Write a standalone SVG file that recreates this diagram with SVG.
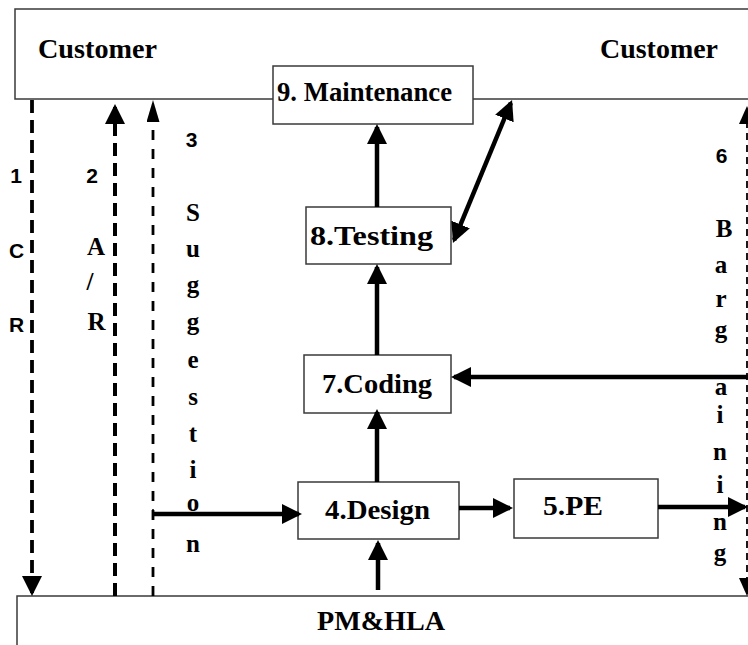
<svg xmlns="http://www.w3.org/2000/svg" width="748" height="645" viewBox="0 0 748 645">
<style>
  .box { fill: #fff; stroke: #3a3a3a; stroke-width: 1.5; }
  .lbl { font-family: "Liberation Serif", "Times New Roman", serif; font-weight: bold; font-size: 28px; fill: #000; }
  .vl { font-family: "Liberation Serif", "Times New Roman", serif; font-weight: bold; font-size: 25px; fill: #000; text-anchor: middle; }
  .num { font-family: "Liberation Sans", Arial, sans-serif; font-weight: bold; font-size: 21px; fill: #000; text-anchor: middle; }
  .solid { fill: none; stroke: #000; stroke-width: 4.5; }
  .dash { fill: none; stroke: #000; }
</style>
<defs>
  <marker id="ah" viewBox="0 0 20 20" markerWidth="20" markerHeight="20" markerUnits="userSpaceOnUse" refX="17" refY="10" orient="auto-start-reverse">
    <path d="M0,0 L20,10 L0,20 Z" fill="#000"/>
  </marker>
  <marker id="ahn" viewBox="0 0 22 13" markerWidth="22" markerHeight="13" markerUnits="userSpaceOnUse" refX="19" refY="6.5" orient="auto-start-reverse">
    <path d="M0,0 L22,6.5 L0,13 Z" fill="#000"/>
  </marker>
  <marker id="ahs" viewBox="0 0 18 16" markerWidth="18" markerHeight="16" markerUnits="userSpaceOnUse" refX="15" refY="8" orient="auto-start-reverse">
    <path d="M0,0 L18,8 L0,16 Z" fill="#000"/>
  </marker>
</defs>

<g id="customer">
  <rect class="box" x="15" y="9" width="760" height="90"/>
  <text class="lbl" x="38" y="58" textLength="119" lengthAdjust="spacingAndGlyphs">Customer</text>
  <text class="lbl" x="600" y="58" textLength="118" lengthAdjust="spacingAndGlyphs">Customer</text>
</g>
<g id="pmhla">
  <rect class="box" x="17" y="596" width="760" height="80"/>
  <text class="lbl" x="317" y="630" textLength="128" lengthAdjust="spacingAndGlyphs">PM&amp;HLA</text>
</g>
<g id="maintenance">
  <rect class="box" x="273" y="66" width="200" height="58"/>
  <text class="lbl" x="277" y="101" font-size="27" textLength="175" lengthAdjust="spacingAndGlyphs">9. Maintenance</text>
</g>
<g id="testing">
  <rect class="box" x="306" y="207" width="145" height="57"/>
  <text class="lbl" x="310" y="245" textLength="123" lengthAdjust="spacingAndGlyphs">8.Testing</text>
</g>
<g id="coding">
  <rect class="box" x="304" y="355" width="147" height="58"/>
  <text class="lbl" x="322" y="393" textLength="110" lengthAdjust="spacingAndGlyphs">7.Coding</text>
</g>
<g id="design">
  <rect class="box" x="298" y="482" width="161" height="57"/>
  <text class="lbl" x="325" y="519" textLength="105" lengthAdjust="spacingAndGlyphs">4.Design</text>
</g>
<g id="pe">
  <rect class="box" x="514" y="479" width="144" height="59"/>
  <text class="lbl" x="543" y="515" textLength="60" lengthAdjust="spacingAndGlyphs">5.PE</text>
</g>

<g id="edge-labels">
  <text class="num" x="16" y="183">1</text>
  <text class="num" x="16.5" y="258">C</text>
  <text class="num" x="16.5" y="332">R</text>
  <text class="num" x="92" y="183">2</text>
  <text class="vl" x="96" y="255">A</text>
  <text class="vl" x="90" y="290" font-weight="normal" font-size="21">/</text>
  <text class="vl" x="96.5" y="330">R</text>
  <text class="num" x="191.5" y="147">3</text>
  <text class="vl" x="193" y="221">S</text>
  <text class="vl" x="193" y="257">u</text>
  <text class="vl" x="193" y="293">g</text>
  <text class="vl" x="193" y="330">g</text>
  <text class="vl" x="193" y="368">e</text>
  <text class="vl" x="193" y="405">s</text>
  <text class="vl" x="193" y="442">t</text>
  <text class="vl" x="193" y="478">i</text>
  <text class="vl" x="193" y="511">o</text>
  <text class="vl" x="193" y="552">n</text>
  <text class="num" x="721.5" y="163">6</text>
  <text class="vl" x="724" y="237">B</text>
  <text class="vl" x="721" y="273">a</text>
  <text class="vl" x="721" y="307">r</text>
  <text class="vl" x="721" y="338">g</text>
  <text class="vl" x="721" y="395">a</text>
  <text class="vl" x="720" y="423">i</text>
  <text class="vl" x="720" y="460">n</text>
  <text class="vl" x="720" y="493">i</text>
  <text class="vl" x="720" y="530">n</text>
  <text class="vl" x="720" y="561">g</text>
</g>

<g id="connectors">
  <path class="dash" d="M32,100 V593" stroke-width="3.8" stroke-dasharray="13 7" marker-end="url(#ah)"/>
  <path class="dash" d="M115,596 V107" stroke-width="4" stroke-dasharray="13 7" marker-end="url(#ah)"/>
  <path class="dash" d="M153,596 V103" stroke-width="2.8" stroke-dasharray="10 9" marker-end="url(#ahn)"/>
  <path class="dash" d="M747,109 V593" stroke="#333" stroke-width="1.8" stroke-dasharray="7 5" marker-start="url(#ahs)" marker-end="url(#ahs)"/>
  <path d="M153,509 V519" stroke="#000" stroke-width="1.5"/>
  <path class="solid" d="M153,514 H299" marker-end="url(#ah)"/>
  <path class="solid" d="M377,482 V412" stroke-width="4" marker-end="url(#ah)"/>
  <path class="solid" d="M377,355 V267" stroke-width="4" marker-end="url(#ah)"/>
  <path class="solid" d="M377,207 V127" stroke-width="4" marker-end="url(#ah)"/>
  <path class="solid" d="M378,590 V543" stroke-width="4" marker-end="url(#ah)"/>
  <path class="solid" d="M459,508 H510" marker-end="url(#ah)"/>
  <path class="solid" d="M658,507 H745" marker-end="url(#ah)"/>
  <path class="solid" d="M748,377 H454" marker-end="url(#ah)"/>
  <path class="solid" d="M510.9,102.8 L454.1,240.2" stroke-width="3" marker-start="url(#ah)" marker-end="url(#ah)"/>
</g>
</svg>
